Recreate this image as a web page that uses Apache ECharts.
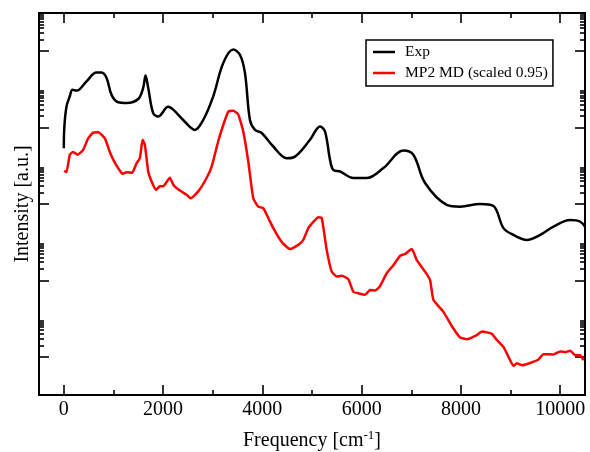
<!DOCTYPE html>
<html>
<head>
<meta charset="utf-8">
<script src="https://cdn.jsdelivr.net/npm/echarts@6/dist/echarts.min.js"></script>
<style>html,body{margin:0;padding:0;background:#fff;}#c{width:590px;height:452px;}</style>
</head>
<body>
<div id="c"></div>
<script>
// Frequency [cm^-1] and intensity [a.u.] (log scale)
const freqExp = [0, 10, 54, 121, 175, 256, 323, 458, 659, 760, 861, 962, 1095, 1264, 1498, 1599, 1647, 1700, 1800, 1901, 2103, 2204, 2405, 2641, 2808, 3010, 3212, 3413, 3548, 3649, 3750, 3851, 3986, 4220, 4490, 4657, 4960, 5161, 5262, 5363, 5429, 5565, 5833, 6103, 6437, 6841, 7042, 7278, 7716, 7984, 8387, 8655, 8857, 9059, 9329, 9597, 9865, 10202, 10403, 10500];
const intExp = [2.9e5, 1.0e6, 3.55e6, 6.6e6, 9.8e6, 9.3e6, 1.02e7, 1.62e7, 2.75e7, 2.75e7, 2.0e7, 7.2e6, 4.6e6, 4.4e6, 5.6e6, 1.1e7, 2.3e7, 1.1e7, 2.4e6, 1.95e6, 3.5e6, 2.95e6, 1.58e6, 8.7e5, 1.58e6, 6.6e6, 4.9e7, 1.1e8, 8.1e7, 2.7e7, 1.58e6, 8.7e5, 7.2e5, 3.2e5, 1.58e5, 1.74e5, 4.8e5, 1.07e6, 7.9e5, 1.45e5, 7.8e4, 7.1e4, 4.8e4, 4.8e4, 8.7e4, 2.5e5, 1.95e5, 3.55e4, 9.5e3, 8.5e3, 1.0e4, 8.9e3, 2.34e3, 1.55e3, 1.15e3, 1.55e3, 2.57e3, 3.8e3, 3.47e3, 2.57e3];

const freqMD = [6, 54, 121, 188, 276, 389, 490, 591, 692, 827, 927, 1014, 1095, 1183, 1264, 1377, 1466, 1532, 1587, 1633, 1700, 1768, 1855, 1935, 2002, 2137, 2204, 2339, 2474, 2554, 2708, 2877, 2978, 3111, 3212, 3313, 3413, 3514, 3615, 3716, 3817, 3917, 4018, 4119, 4220, 4389, 4556, 4724, 4825, 4925, 5046, 5127, 5196, 5296, 5397, 5498, 5599, 5732, 5833, 5933, 6069, 6169, 6270, 6371, 6506, 6639, 6774, 6875, 7010, 7111, 7278, 7379, 7446, 7647, 7849, 7984, 8119, 8321, 8421, 8623, 8724, 8857, 8958, 9059, 9127, 9228, 9395, 9562, 9663, 9865, 10000, 10101, 10202, 10302, 10403, 10470];
const intMD = [7.4e4, 6.8e4, 1.95e5, 2.3e5, 1.95e5, 2.6e5, 5.2e5, 7.4e5, 7.6e5, 5.2e5, 2.3e5, 1.3e5, 8.7e4, 6.2e4, 6.8e4, 6.6e4, 1.17e5, 1.58e5, 4.8e5, 3.55e5, 7.1e4, 3.9e4, 2.34e4, 2.9e4, 2.9e4, 4.9e4, 3.2e4, 2.24e4, 1.74e4, 1.41e4, 2.14e4, 4.8e4, 9.5e4, 4.4e5, 1.17e6, 2.6e6, 2.75e6, 2.2e6, 7.9e5, 1.3e5, 1.41e4, 8.5e3, 7.8e3, 4.3e3, 2.34e3, 1.02e3, 660, 850, 1150, 2340, 3600, 4500, 4300, 630, 170, 126, 132, 107, 50, 46, 42, 56, 54, 71, 155, 250, 440, 490, 660, 340, 170, 102, 31, 15, 5.5, 3.2, 2.9, 3.7, 4.6, 4.0, 2.75, 1.82, 1.0, 0.575, 0.676, 0.603, 0.69, 0.85, 1.17, 1.15, 1.38, 1.32, 1.45, 1.10, 1.10, 0.81];

const seriesNames = ['Exp', 'MP2 MD (scaled 0.95)'];
const xMajorTicks = [0, 2000, 4000, 6000, 8000, 10000];
const xMinorTicks = [1000, 3000, 5000, 7000, 9000];
const yMajorExp = [0, 2, 4, 6, 8];           // decades with major ticks
const xMin = -500, xMax = 10500;
const yMin = 0.1, yMax = 1e9;

// tick positions (in log10 units) for the decorative tick axes
const yLogMin = Math.log10(yMin), yLogMax = Math.log10(yMax);
const yMinorLog = [];
yMajorExp.forEach(e => { for (let k = 2; k <= 9; k++) { const v = e + Math.log10(k); if (v > yLogMin && v < yLogMax) yMinorLog.push(v); } });

const FONT = 'Liberation Serif';
const pair = (xs, ys) => xs.map((x, i) => [x, ys[i]]);

function xTickAxis(pos, values, len, labels) {
  return {
    type: 'value', position: pos, min: xMin, max: xMax,
    axisLine: { show: false, onZero: false }, splitLine: { show: false },
    axisTick: { show: true, inside: true, length: len, customValues: values, lineStyle: { color: '#000', width: 1.6 } },
    axisLabel: labels ? { show: true, customValues: values, color: '#000', fontFamily: FONT, fontSize: 20, margin: 5, formatter: v => String(v) } : { show: false }
  };
}
function yTickAxis(pos, values, len) {
  return {
    type: 'value', position: pos, min: yLogMin, max: yLogMax,
    axisLine: { show: false, onZero: false }, splitLine: { show: false }, axisLabel: { show: false },
    axisTick: { show: true, inside: true, length: len, customValues: values, lineStyle: { color: '#000', width: 1.6 } }
  };
}

const chart = echarts.init(document.getElementById('c'), null, { renderer: 'canvas' });
const xMain = xTickAxis('bottom', xMajorTicks, 10, true);
xMain.name = 'Frequency [cm{sup|-1}]';
xMain.nameLocation = 'middle';
xMain.nameGap = 34;
xMain.nameTextStyle = { color: '#000', fontFamily: FONT, fontSize: 20, rich: { sup: { fontFamily: FONT, fontSize: 13, verticalAlign: 'top', padding: [0, 0, 10, 0] } } };

chart.setOption({
  animation: false,
  backgroundColor: '#fff',
  grid: { left: 39, right: 5, top: 13, bottom: 57, containLabel: false, outerBoundsMode: 'none', show: true, borderColor: '#000', borderWidth: 2, backgroundColor: 'transparent' },
  legend: {
    orient: 'vertical', left: 366, top: 40,
    data: seriesNames.map(n => ({ name: n, icon: 'rect' })),
    itemWidth: 22, itemHeight: 2.5, itemGap: 5,
    padding: [4, 5, 5, 7],
    borderColor: '#000', borderWidth: 1.5, backgroundColor: '#fff',
    textStyle: { color: '#000', fontFamily: FONT, fontSize: 15.5, padding: [0, 0, 0, 5] }
  },
  xAxis: [
    xMain,
    xTickAxis('bottom', xMinorTicks, 5, false),
    xTickAxis('top', xMajorTicks, 10, false),
    xTickAxis('top', xMinorTicks, 5, false)
  ],
  yAxis: [
    {
      type: 'log', logBase: 10, min: yMin, max: yMax, position: 'left',
      axisLine: { show: false, onZero: false }, axisTick: { show: false }, axisLabel: { show: false }, splitLine: { show: false },
      name: 'Intensity [a.u.]', nameLocation: 'middle', nameGap: 6,
      nameTextStyle: { color: '#000', fontFamily: FONT, fontSize: 20 }
    },
    yTickAxis('left', yMajorExp, 10),
    yTickAxis('left', yMinorLog, 5),
    yTickAxis('right', yMajorExp, 10),
    yTickAxis('right', yMinorLog, 5)
  ],
  series: [
    {
      name: seriesNames[0], type: 'line', xAxisIndex: 0, yAxisIndex: 0,
      data: pair(freqExp, intExp), showSymbol: false, symbol: 'none', smooth: 0.35,
      lineStyle: { color: '#000', width: 2.5 }, itemStyle: { color: '#000' }
    },
    {
      name: seriesNames[1], type: 'line', xAxisIndex: 0, yAxisIndex: 0,
      data: pair(freqMD, intMD), showSymbol: false, symbol: 'none', smooth: 0.15,
      lineStyle: { color: '#ff0000', width: 2.5 }, itemStyle: { color: '#ff0000' }
    }
  ]
});
</script>
</body>
</html>
